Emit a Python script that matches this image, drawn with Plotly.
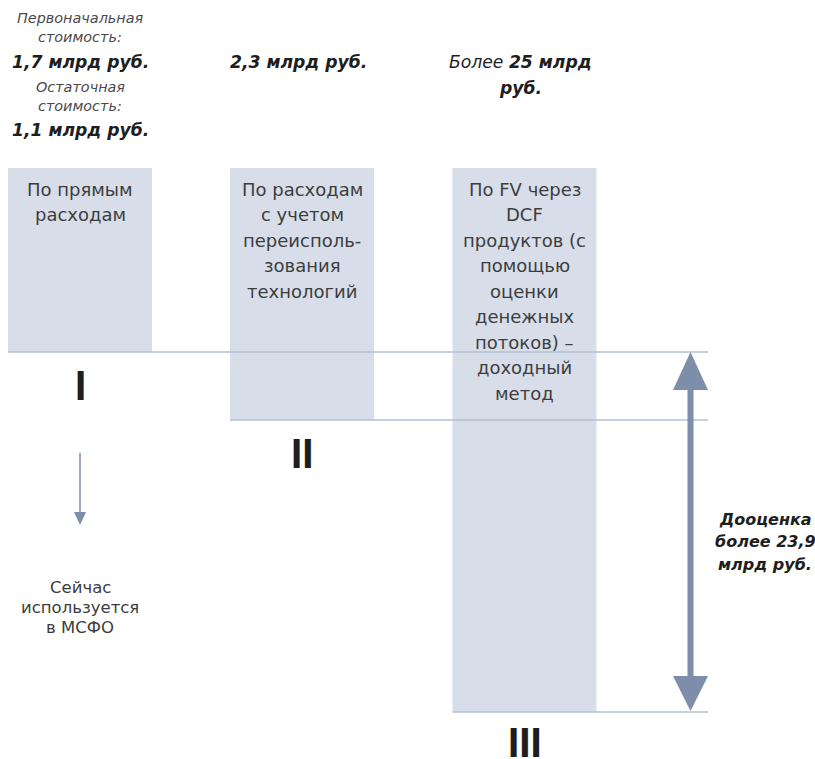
import plotly.graph_objects as go

# --- data -------------------------------------------------------------
method_lines = [
    ["По прямым", "расходам"],
    ["По расходам", "с учетом", "переисполь-", "зования", "технологий"],
    ["По FV через", "DCF", "продуктов (с", "помощью", "оценки",
     "денежных", "потоков) –", "доходный", "метод"],
]
roman = ["I", "II", "III"]
# schematic depth of each method's box (diagram units, top = 168)
bar_top = [168, 168, 168]
bar_floor = [352, 420, 712]
value_head = [
    ["<i>Первоначальная</i>", "<i>стоимость:</i>", "<b><i>1,7 млрд руб.</i></b>",
     "<i>Остаточная</i>", "<i>стоимость:</i>", "<b><i>1,1 млрд руб.</i></b>"],
    ["<b><i>2,3 млрд руб.</i></b>"],
    ["<i>Более <b>25 млрд</b></i>", "<b><i>руб.</i></b>"],
]
uplift_lines = ["Дооценка", "более 23,9", "млрд руб."]
ifrs_lines = ["Сейчас", "используется", "в МСФО"]

# --- style ------------------------------------------------------------
W, H = 815, 759
BOX = "#d7dee9"
RULE = "#b3bfd2"
ARROW = "#7c8ea9"
DARK = "#1e1e1e"
GREY = "#3d3d3d"
FONT = "DejaVu Sans"

col_x = [80, 302, 524.5]
col_w = 144
rule_end = 708

fig = go.Figure()

# method boxes
fig.add_trace(go.Bar(
    x=col_x,
    y=[f - t for f, t in zip(bar_floor, bar_top)],
    base=bar_top,
    width=col_w,
    marker=dict(color=BOX, line=dict(width=0)),
    hoverinfo="skip",
    showlegend=False,
))

# level rules under each box
for cx, fl in zip(col_x, bar_floor):
    fig.add_trace(go.Scatter(
        x=[cx - col_w / 2, rule_end], y=[fl, fl], mode="lines",
        line=dict(color=RULE, width=1.5), hoverinfo="skip", showlegend=False,
    ))

annotations = []


def label(x, y, text, size, color, family=FONT, **kw):
    annotations.append(dict(
        x=x, y=y, xref="x", yref="y", text=text, showarrow=False,
        xanchor="center", yanchor="middle",
        font=dict(family=family, size=size, color=color), **kw,
    ))


# text inside boxes
for cx, lines in zip(col_x, method_lines):
    for i, ln in enumerate(lines):
        label(cx, 189 + i * 25.5, ln, 18, GREY)

# roman numerals under boxes
roman_y = [385, 453, 742]
for cx, r, ry in zip(col_x, roman, roman_y):
    label(cx, ry, "<b>" + r + "</b>", 40, DARK, family="Inter")

# valuation headings above boxes
head_y = [
    [18, 37, 62, 87, 106, 130],
    [62],
    [62, 88],
]
head_x = [80, 298, 520]
for cx, lines, ys in zip(head_x, value_head, head_y):
    for ln, yy in zip(lines, ys):
        big = "<b>" in ln
        label(cx, yy, ln, 17.2 if big else 14.4,
              DARK if big else "#4a4a4a")

# IFRS note under method I
for i, ln in enumerate(ifrs_lines):
    label(80, 587 + i * 20, ln, 16.5, GREY)

# uplift note
for i, ln in enumerate(uplift_lines):
    label(765, 519 + i * 22.5, "<b><i>" + ln + "</i></b>", 16, DARK)

shapes = []


def head(x, tip, base, half):
    return dict(type="path", xref="x", yref="y",
                path=f"M{x - half},{base} L{x + half},{base} L{x},{tip} Z",
                fillcolor=ARROW, line=dict(width=0))


# double arrow for the uplift between method I and III
ax = 690.5
shapes.append(dict(type="line", xref="x", yref="y", x0=ax, x1=ax,
                   y0=bar_floor[0] + 36, y1=bar_floor[2] - 34,
                   line=dict(color=ARROW, width=6)))
shapes.append(head(ax, bar_floor[0], bar_floor[0] + 38, 17.5))
shapes.append(head(ax, bar_floor[2] - 1, bar_floor[2] - 36, 17.5))

# small arrow pointing to the IFRS note
shapes.append(dict(type="line", xref="x", yref="y", x0=80, x1=80,
                   y0=453, y1=515, line=dict(color=ARROW, width=1.5)))
shapes.append(head(80, 525, 512, 6))

fig.update_layout(
    width=W, height=H,
    margin=dict(l=0, r=0, t=0, b=0),
    paper_bgcolor="white", plot_bgcolor="white",
    xaxis=dict(range=[0, W], visible=False, fixedrange=True),
    yaxis=dict(range=[H, 0], visible=False, fixedrange=True),
    annotations=annotations,
    shapes=shapes,
    showlegend=False,
)

fig.write_html("out.html")
